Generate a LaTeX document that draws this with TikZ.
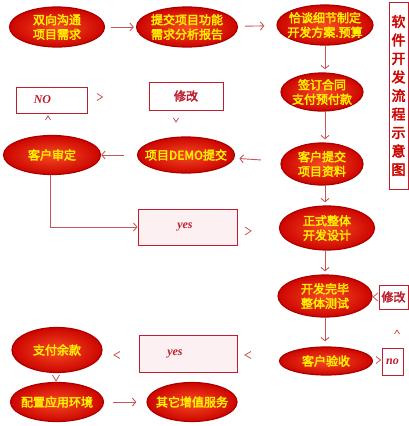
\documentclass[tikz,border=0pt]{standalone}
\usepackage{fontspec}
\usetikzlibrary{shapes.geometric,arrows.meta}
\newfontfamily\cjk[FakeBold=3]{Noto Sans CJK SC}
\newfontfamily\lserif{Liberation Serif}
\definecolor{ered}{RGB}{205,5,0}
\definecolor{eline}{RGB}{170,0,0}
\definecolor{einner}{RGB}{245,75,35}
\definecolor{etext}{RGB}{255,238,0}
\definecolor{conn}{RGB}{200,85,85}
\definecolor{bred}{RGB}{190,30,45}
\definecolor{pinkfill}{RGB}{253,240,242}
\tikzset{
  oval/.style={ellipse, inner xsep=-22pt, inner ysep=-10pt, minimum width=95pt, minimum height=40pt,
    inner color=einner, outer color=ered, draw=eline, line width=1.2pt,
    text=etext, font={\cjk\fontsize{12}{14.5}\selectfont}, align=center},
  conn/.style={draw=conn, line width=0.9pt, -{Straight Barb[length=3.5pt,width=8pt]}},
  chev/.style={draw=conn, line width=0.8pt},
  sbox/.style={draw=bred, line width=0.9pt, fill=white, inner sep=0pt},
  ybox/.style={sbox, fill=pinkfill},
  latin/.style={text=bred, font={\lserif\bfseries\itshape\fontsize{12}{12}\selectfont}},
  cjkred/.style={text=bred, font={\cjk\fontsize{12}{12}\selectfont}}
}
\begin{document}
\begin{tikzpicture}[x=1pt,y=-1pt]
\useasboundingbox (0,0) rectangle (409,426);
% ellipses
\node[oval] (e1) at (57,27) {双向沟通\\项目需求};
\node[oval, minimum width=101pt] (e2) at (187,27) {提交项目功能\\需求分析报告};
\node[oval, minimum width=96pt] (e3) at (325,25) {恰谈细节制定\\开发方案.预算};
\node[oval, minimum width=82pt, minimum height=38pt] (e4) at (322,92) {签订合同\\支付预付款};
\node[oval, minimum width=82pt, minimum height=42pt] (e5) at (322,164) {客户提交\\项目资料};
\node[oval, minimum width=97pt, minimum height=36pt] (e6) at (186,155) {项目DEMO提交};
\node[oval, minimum width=97pt, minimum height=39pt] (e7) at (52,155) {客户审定};
\node[oval, minimum width=95pt, minimum height=44pt] (e8) at (327,228) {正式整体\\开发设计};
\node[oval, minimum width=94pt, minimum height=42pt] (e9) at (325,296) {开发完毕\\整体测试};
\node[oval, minimum width=93pt, minimum height=28pt] (e10) at (326,361) {客户验收};
\node[oval, minimum width=90pt, minimum height=45pt] (e11) at (57,350) {支付余款};
\node[oval, minimum width=93pt, minimum height=39pt] (e12) at (57,402) {配置应用环境};
\node[oval, minimum width=90pt, minimum height=39pt] (e13) at (192,402) {其它增值服务};
% title box
\node[draw=bred, line width=1pt, fill=white, minimum width=19pt, minimum height=187pt, inner sep=0pt,
  text=ered, font={\cjk\fontsize{14}{18.5}\selectfont}, align=center] (title) at (398.5,95.5)
  {软\\件\\开\\发\\流\\程\\示\\意\\图};
% small boxes
\node[sbox, minimum width=71pt, minimum height=26pt, latin] (no1) at (51.5,100) {\hspace*{-18pt}NO};
\node[sbox, minimum width=74pt, minimum height=28pt, cjkred] (mod1) at (186,96) {修改};
\node[ybox, minimum width=99pt, minimum height=36pt, latin] (yes1) at (187.5,227) {\hspace*{-5pt}yes};
\node[sbox, minimum width=29pt, minimum height=24pt, cjkred] (mod2) at (393.5,297) {修改};
\node[sbox, minimum width=21pt, minimum height=27pt, latin] (no2) at (392.5,361.5) {no};
\node[ybox, minimum width=98pt, minimum height=37pt, latin] (yes2) at (188,353.5) {\hspace*{-26pt}yes};
% connectors
\draw[conn, shorten <=6pt, shorten >=2pt] (e1) -- (e2);
\draw[conn, shorten <=7pt, shorten >=12pt] (e2) -- (e3);
\draw[conn, shorten >=3pt] (e3.south) -- (e3.south |- e4.north);
\draw[conn, shorten >=3pt] (e4.south -| e3.south) -- (e3.south |- e5.north);
\draw[conn, shorten <=20pt, shorten >=5pt] (e5) -- (e6);
\draw[conn, shorten <=13pt, shorten >=0pt] (e6) -- (e7);
\draw[conn] (e7.south -| 50,0) |- (yes1.west);
\draw[conn, shorten >=3pt] (e5.south -| e3.south) -- (e3.south |- e8.north);
\draw[conn, shorten >=3pt] (e8.south -| e3.south) -- (e3.south |- e9.north);
\draw[conn, shorten >=5pt] (e9.south -| e3.south) -- (e3.south |- e10.north);
\draw[conn, shorten <=9pt, shorten >=10pt] (e12) -- (e13);
% loose chevrons
\draw[chev] (97,93.5) -- (102.5,97) -- (97,100.5);
\draw[chev] (45.5,120) -- (48,116) -- (50.5,120);
\draw[chev] (173.5,118) -- (176,122) -- (178.5,118);
\draw[chev] (245,227) -- (251,231) -- (245,235);
\draw[chev] (394.5,334) -- (397,330) -- (399.5,334);
\draw[chev] (378,293) -- (373,297) -- (378,301);
\draw[chev] (376,356.5) -- (380.5,360) -- (376,363.5);
\draw[chev] (251,351.5) -- (245,355) -- (251,358.5);
\draw[chev] (120,351.5) -- (114,355) -- (120,358.5);
\draw[chev] (52.5,375) -- (56,381) -- (59.5,375);
\end{tikzpicture}
\end{document}
